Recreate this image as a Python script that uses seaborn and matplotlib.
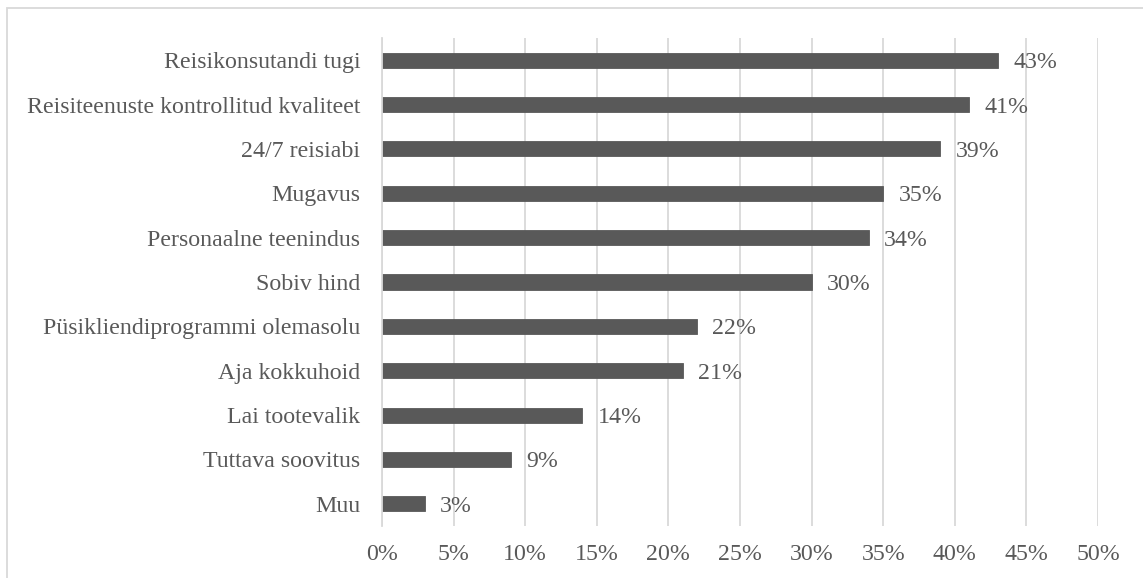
import matplotlib
matplotlib.use("Agg")
import matplotlib.pyplot as plt
from matplotlib.patches import Rectangle
from matplotlib.ticker import MultipleLocator, FuncFormatter
import seaborn as sns
import pandas as pd

categories = [
    "Reisikonsutandi tugi",
    "Reisiteenuste kontrollitud kvaliteet",
    "24/7 reisiabi",
    "Mugavus",
    "Personaalne teenindus",
    "Sobiv hind",
    "Püsikliendiprogrammi olemasolu",
    "Aja kokkuhoid",
    "Lai tootevalik",
    "Tuttava soovitus",
    "Muu",
]
shares = [43, 41, 39, 35, 34, 30, 22, 21, 14, 9, 3]

df = pd.DataFrame({"category": categories, "share": shares})

sns.set_theme(style="white")
plt.rcParams["font.family"] = ["Liberation Serif", "DejaVu Serif"]

text_color = "#595959"
bar_color = "#595959"
grid_color = "#d9d9d9"
fs = 17.2

fig = plt.figure(figsize=(11.43, 5.78), dpi=100)
W, H = 1143, 578
ax = fig.add_axes([382 / W, 1 - 526 / H, (1098 - 382) / W, (526 - 38) / H])

sns.barplot(data=df, x="share", y="category", color=bar_color,
            saturation=1, width=0.34, ax=ax, orient="h",
            edgecolor=bar_color, linewidth=0.6)

ax.set_xlim(0, 50)
ax.set_ylim(len(categories) - 0.5, -0.5)
ax.xaxis.set_major_locator(MultipleLocator(5))
ax.xaxis.set_major_formatter(FuncFormatter(lambda v, p: f"{v:.0f}%"))
ax.grid(axis="x", color=grid_color, linewidth=1.3)
ax.grid(axis="y", visible=False)
ax.set_axisbelow(True)
ax.set_xlabel("")
ax.set_ylabel("")

for side in ["top", "right", "bottom"]:
    ax.spines[side].set_visible(False)
ax.spines["left"].set_color(grid_color)
ax.spines["left"].set_linewidth(1.3)

ax.tick_params(axis="both", length=0, labelsize=fs, labelcolor=text_color)
ax.tick_params(axis="x", pad=13)
ax.tick_params(axis="y", pad=15.5)

for patch, val in zip(ax.patches, shares):
    y = patch.get_y() + patch.get_height() / 2
    ax.annotate(f"{val}%", xy=(val, y), xytext=(11, 0), textcoords="offset points",
                va="center_baseline", ha="left", fontsize=fs, color=text_color)

# outer frame of the chart area
fig.patches.append(Rectangle((7 / W, -0.05), 1.1, 1 - 8 / H + 0.05,
                             transform=fig.transFigure, fill=False,
                             edgecolor=grid_color, linewidth=1.3))

fig.savefig("out.png", dpi=100, facecolor="white")
